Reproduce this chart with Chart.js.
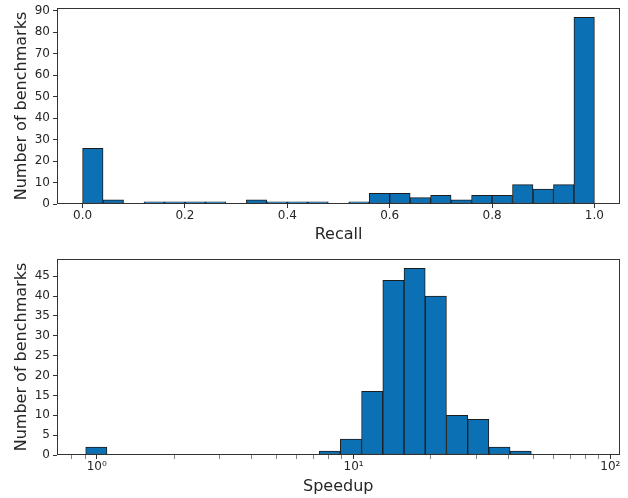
<!DOCTYPE html>
<html>
<head>
<meta charset="utf-8">
<script src="https://cdn.jsdelivr.net/npm/chart.js@4.4.1/dist/chart.umd.min.js"></script>
<style>
    body { margin: 0; background: #fff; }
    #wrap { position: relative; width: 628px; height: 498px; }
    .panel { position: absolute; left: 0; width: 628px; }
</style>
</head>
<body>
<div id="wrap">
    <div class="panel" style="top:0;height:250px"><canvas id="recallChart"></canvas></div>
    <div class="panel" style="top:250px;height:248px"><canvas id="speedupChart"></canvas></div>
</div>
<script>
// Recall histogram: 25 bins of width 0.04
const recallBinCenters = [0.02, 0.06, 0.10, 0.14, 0.18, 0.22, 0.26, 0.30, 0.34, 0.38,
                          0.42, 0.46, 0.50, 0.54, 0.58, 0.62, 0.66, 0.70, 0.74, 0.78,
                          0.82, 0.86, 0.90, 0.94, 0.98];
const recallCounts = [26, 2, 0, 1, 1, 1, 1, 0, 2, 1,
                      1, 1, 0, 1, 5, 5, 3, 4, 2, 4,
                      4, 9, 7, 9, 87];
const recallTicks = [0, 0.2, 0.4, 0.6, 0.8, 1.0];
const recallCountTicks = [0, 10, 20, 30, 40, 50, 60, 70, 80, 90];

// Speedup histogram: log-spaced bins (centres are geometric means of the edges)
const speedupBinCenters = [0.996, 1.205, 1.458, 1.763, 2.133, 2.580, 3.121, 3.775,
                           4.566, 5.523, 6.679, 8.079, 9.772, 11.82, 14.30, 17.29,
                           20.92, 25.30, 30.60, 37.01, 44.77, 54.15, 65.50, 79.22];
const speedupCounts = [2, 0, 0, 0, 0, 0, 0, 0,
                       0, 0, 0, 1, 4, 16, 44, 47,
                       40, 10, 9, 2, 1, 0, 0, 0];
const speedupMajorTicks = [1, 10, 100];
const speedupMinorTicks = [0.8, 0.9, 2, 3, 4, 5, 6, 7, 8, 9, 20, 30, 40, 50, 60, 70, 80, 90];
const speedupCountTicks = [0, 5, 10, 15, 20, 25, 30, 35, 40, 45];

const FONT = 'DejaVu Sans';
const INK = '#262626';
const BAR_FILL = '#0b70b4';
const BAR_EDGE = '#1c1c1c';

// matplotlib-like box around the plot area
const frameBox = {
    id: 'frameBox',
    afterDatasetsDraw(chart) {
        const { ctx, chartArea: a } = chart;
        ctx.save();
        ctx.strokeStyle = '#333';
        ctx.lineWidth = 1;
        const l = Math.round(a.left) + 0.5;
        const t = Math.round(a.top) + 0.5;
        const r = Math.round(a.right) - 0.5;
        const b = Math.round(a.bottom) - 0.5;
        ctx.strokeRect(l, t, r - l, b - t);
        ctx.restore();
    }
};

const SUP = { '0': '\u2070', '1': '\u00b9', '2': '\u00b2', '3': '\u00b3' };

function tickGrid() {
    return {
        display: true,
        offset: false,
        drawOnChartArea: false,
        drawTicks: true,
        tickLength: 4,
        tickColor: '#333',
        tickWidth: (c) => (c.tick && c.tick.minor ? 0.6 : 1)
    };
}

function makeHistogram(canvasId, o) {
    const canvas = document.getElementById(canvasId);
    const points = o.centers.map((c, i) => ({ x: c, y: o.counts[i] }));

    return new Chart(canvas.getContext('2d'), {
        type: 'bar',
        data: {
            datasets: [{
                data: points,
                backgroundColor: BAR_FILL,
                borderColor: BAR_EDGE,
                borderWidth: 1,
                borderSkipped: false,
                barThickness: 'flex',
                barPercentage: 1,
                categoryPercentage: 1
            }]
        },
        options: {
            responsive: true,
            maintainAspectRatio: false,
            animation: false,
            devicePixelRatio: 1,
            layout: { padding: o.padding },
            plugins: { legend: { display: false }, tooltip: { enabled: false } },
            scales: {
                x: {
                    type: o.xType,
                    min: o.xMin,
                    max: o.xMax,
                    offset: false,
                    border: { display: false },
                    grid: tickGrid(),
                    afterBuildTicks: (scale) => { scale.ticks = o.xTicks(); },
                    afterFit: (scale) => {
                        scale.height = o.xAxisHeight;
                        scale.paddingLeft = 0;
                        scale.paddingRight = 0;
                    },
                    ticks: {
                        autoSkip: false,
                        maxRotation: 0,
                        padding: 1,
                        color: INK,
                        font: { family: FONT, size: 12 },
                        callback: o.xLabel
                    },
                    title: {
                        display: true,
                        text: o.xTitle,
                        color: INK,
                        font: { family: FONT, size: 16 },
                        padding: { top: 0, bottom: o.xTitlePad }
                    }
                },
                y: {
                    type: 'linear',
                    min: 0,
                    max: o.yMax,
                    border: { display: false },
                    grid: tickGrid(),
                    afterBuildTicks: (scale) => {
                        scale.ticks = o.yTicks.map(v => ({ value: v }));
                    },
                    afterFit: (scale) => {
                        scale.width = 57;
                        scale.paddingTop = 0;
                        scale.paddingBottom = 0;
                    },
                    ticks: {
                        padding: 3,
                        color: INK,
                        font: { family: FONT, size: 12 },
                        callback: (v) => String(v)
                    },
                    title: {
                        display: true,
                        text: 'Number of benchmarks',
                        color: INK,
                        font: { family: FONT, size: 16 },
                        padding: { top: 12.4, bottom: 0 }
                    }
                }
            }
        },
        plugins: [frameBox]
    });
}

makeHistogram('recallChart', {
    centers: recallBinCenters,
    counts: recallCounts,
    xType: 'linear',
    xMin: -0.05,
    xMax: 1.05,
    xTicks: () => recallTicks.map(v => ({ value: v })),
    xLabel: (v) => Number(v).toFixed(1),
    xTitle: 'Recall',
    xTitlePad: 5.5,
    xAxisHeight: 46,
    yMax: 91.35,
    yTicks: recallCountTicks,
    padding: { left: 0, top: 8, right: 8, bottom: 0 }
});

makeHistogram('speedupChart', {
    centers: speedupBinCenters,
    counts: speedupCounts,
    xType: 'logarithmic',
    xMin: 0.721,
    xMax: 108.6,
    xTicks: () => speedupMajorTicks.map(v => ({ value: v }))
        .concat(speedupMinorTicks.map(v => ({ value: v, minor: true })))
        .sort((a, b) => a.value - b.value),
    xLabel: (v) => {
        if (!speedupMajorTicks.includes(v)) return '';
        const exp = String(Math.round(Math.log10(v)));
        return '10' + exp.split('').map(d => SUP[d]).join('');
    },
    xTitle: 'Speedup',
    xTitlePad: 2,
    xAxisHeight: 43,
    yMax: 49.35,
    yTicks: speedupCountTicks,
    padding: { left: 0, top: 9, right: 8.5, bottom: 0 }
});
</script>
</body>
</html>
